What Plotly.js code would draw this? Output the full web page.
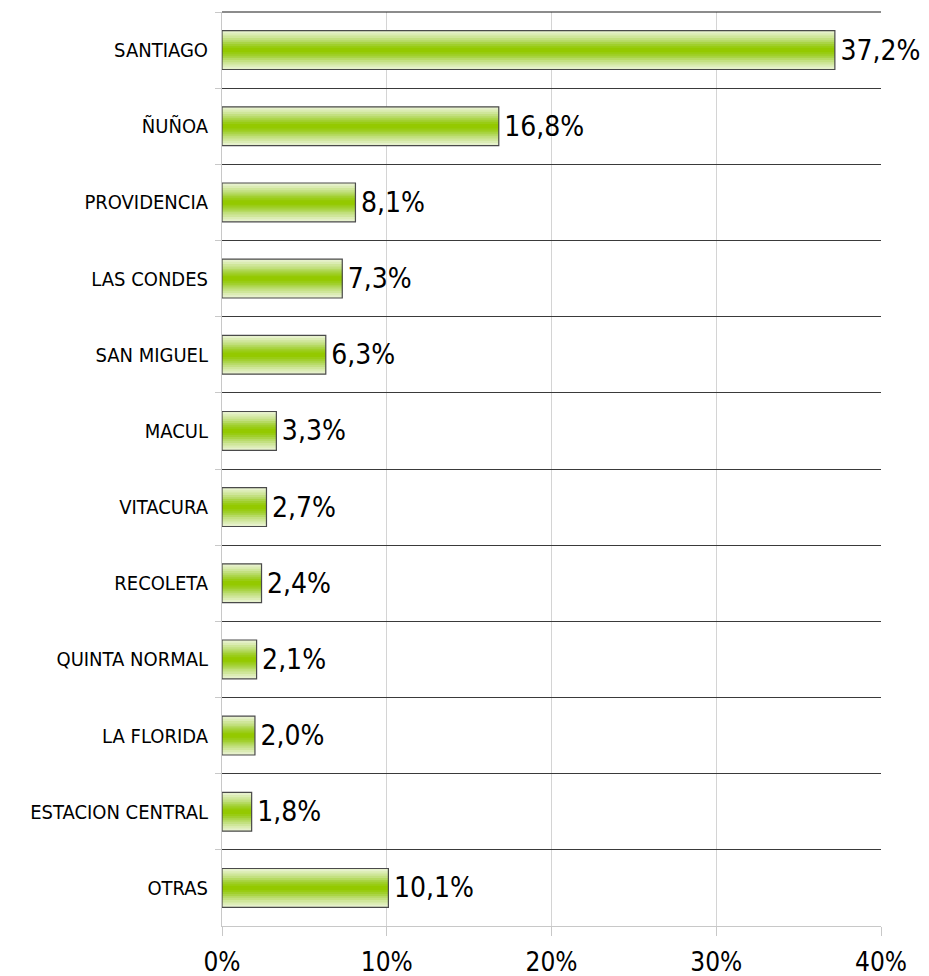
<!DOCTYPE html>
<html>
<head>
<meta charset="utf-8">
<script src="https://cdn.plot.ly/plotly-3.0.1.min.js"></script>
<style>html,body{margin:0;padding:0;background:#fff;}#chart{width:929px;height:976px;}</style>
</head>
<body>
<div id="chart"></div>
<script>
// Data
const comunas = ["SANTIAGO","ÑUÑOA","PROVIDENCIA","LAS CONDES","SAN MIGUEL","MACUL","VITACURA","RECOLETA","QUINTA NORMAL","LA FLORIDA","ESTACION CENTRAL","OTRAS"];
const porcentajes = [0.372,0.168,0.081,0.073,0.063,0.033,0.027,0.024,0.021,0.020,0.018,0.101];
const xTickVals = [0,0.1,0.2,0.3,0.4];
const xTickText = ["0%","10%","20%","30%","40%"];

// Style: vertical gradient approximated by overlaid bar layers (outer -> inner)
const layerWidths = [0.51,0.44,0.38,0.32,0.26,0.21,0.16,0.11,0.06];
const layerColors = ["#e6f1cb","#dbecb3","#cfe69a","#c3e080","#b6da63","#aad446","#a0cf2b","#99cc14","#94c900"];
const FONT = "'DejaVu Sans Condensed', 'DejaVu Sans', sans-serif";

const traces = [];
layerWidths.forEach((w,i)=>{
  traces.push({
    type:"bar", orientation:"h", y:comunas, x:porcentajes, width:w,
    marker:{color:layerColors[i], line:{width:0}},
    hoverinfo:"skip", showlegend:false
  });
});
traces.push({
  type:"bar", orientation:"h", y:comunas, x:porcentajes, width:layerWidths[0],
  marker:{color:"rgba(0,0,0,0)", line:{width:1.2, color:"#4a4a4a"}},
  text: porcentajes, texttemplate:"\u200A%{x:.1%}", textposition:"outside",
  constraintext:"none", cliponaxis:false,
  textfont:{family:FONT, size:28, color:"#000"},
  showlegend:false
});

const layout = {
  width:929, height:976,
  margin:{l:222, r:48, t:12, b:50},
  paper_bgcolor:"#fff", plot_bgcolor:"#fff",
  barmode:"overlay",
  separators:",.",
  showlegend:false,
  font:{family:FONT, color:"#000"},
  xaxis:{
    range:[0,0.4], tickvals:xTickVals, ticktext:xTickText,
    showgrid:true, gridcolor:"#d4d4d4", gridwidth:1,
    zeroline:false, showline:true, linecolor:"#c8c8c8", linewidth:1,
    ticks:"outside", ticklen:9, tickcolor:"#c8c8c8",
    ticklabelstandoff:4,
    tickfont:{family:FONT, size:26, color:"#000"}
  },
  yaxis:{
    type:"category", autorange:"reversed", tickson:"boundaries",
    showgrid:true, gridcolor:"#3a3a3a", gridwidth:1,
    showline:true, linecolor:"#c8c8c8", linewidth:1,
    ticks:"outside", ticklen:6, tickcolor:"#c8c8c8",
    ticklabelstandoff:9,
    tickfont:{family:FONT, size:20, color:"#000"}
  },
  shapes:[{type:"line", xref:"paper", yref:"paper", x0:0, x1:1, y0:1, y1:1, line:{color:"#1a1a1a", width:1.2}, layer:"above"}]
};

Plotly.newPlot("chart", traces, layout, {displayModeBar:false, staticPlot:true});
</script>
</body>
</html>
